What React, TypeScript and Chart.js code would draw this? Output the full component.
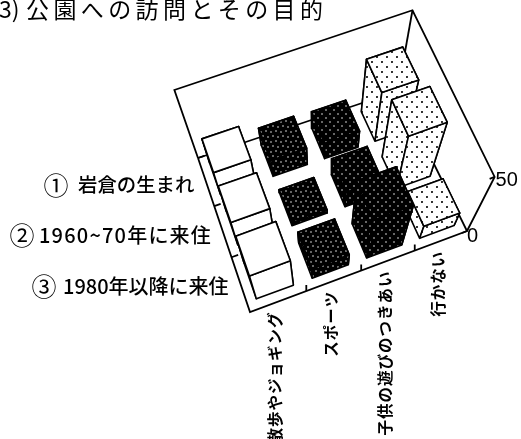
import React, { useEffect, useRef } from "react";
import { Chart, registerables } from "chart.js";

Chart.register(...registerables);

const titleText = "公園への訪問とその目的";
const titlePrefix = "3)";
const categories = ["散歩やジョギング", "スポーツ", "子供の遊びのつきあい", "行かない"];
const rowMarks = ["①", "②", "③"];
const rowLabels = ["岩倉の生まれ", "1960~70年に来住", "1980年以降に来住"];
const valueTicks = [0, 50];
// rows: ① (back), ② (middle), ③ (front)
const walkingValues = [20, 24, 30];
const sportsValues = [14, 3, 12];
const childrenValues = [13, 14, 40];
const noneValues = [36, 43, 13];

const W = 521;
const H = 439;
const FONT = '"Noto Sans CJK JP", "Noto Sans", sans-serif';

type Pt = { x: number; y: number };
// perspective frame of the floor and the vanishing point of the verticals
const FL: Pt = { x: 250, y: 312 };
const FR: Pt = { x: 467, y: 231 };
const BR: Pt = { x: 398, y: 91 };
const BL: Pt = { x: 198, y: 158 };
const VP: Pt = { x: 322, y: 515 };
const HEIGHT_K = 0.0032;
const BAR_MARGIN = 0.17;

function homography(p0: Pt, p1: Pt, p2: Pt, p3: Pt) {
  const dx1 = p1.x - p2.x, dx2 = p3.x - p2.x, sx = p0.x - p1.x + p2.x - p3.x;
  const dy1 = p1.y - p2.y, dy2 = p3.y - p2.y, sy = p0.y - p1.y + p2.y - p3.y;
  const den = dx1 * dy2 - dx2 * dy1;
  const g = (sx * dy2 - dx2 * sy) / den;
  const h = (dx1 * sy - sx * dy1) / den;
  const a = p1.x - p0.x + g * p1.x, b = p3.x - p0.x + h * p3.x, c = p0.x;
  const d = p1.y - p0.y + g * p1.y, e = p3.y - p0.y + h * p3.y, f = p0.y;
  return (u: number, v: number): Pt => {
    const w = g * u + h * v + 1;
    return { x: (a * u + b * v + c) / w, y: (d * u + e * v + f) / w };
  };
}
const floorMap = homography(FL, FR, BR, BL);

// col in 0..4 along the front edge, depth in 0..3 from front to back
function project(col: number, depth: number, value = 0): Pt {
  const p = floorMap(col / 4, depth / 3);
  const r = 1 / (1 - HEIGHT_K * value);
  return { x: VP.x + (p.x - VP.x) * r, y: VP.y + (p.y - VP.y) * r };
}

function makePattern(ctx: CanvasRenderingContext2D, bg: string, fg: string, tile: number, dots: [number, number][], r: number) {
  const c = document.createElement("canvas");
  c.width = tile;
  c.height = tile;
  const g = c.getContext("2d")!;
  g.fillStyle = bg;
  g.fillRect(0, 0, tile, tile);
  g.fillStyle = fg;
  for (const [x, y] of dots) {
    g.beginPath();
    g.arc(x, y, r, 0, Math.PI * 2);
    g.fill();
  }
  return ctx.createPattern(c, "repeat")!;
}

export default function App() {
  const ref = useRef<HTMLCanvasElement>(null);
  useEffect(() => {
    const canvas = ref.current!;
    const ctx = canvas.getContext("2d")!;
    const sportsFill = makePattern(ctx, "#000", "#fff", 10, [[1, 2], [6, 1], [3, 6], [8, 7]], 0.75);
    const childFill = makePattern(ctx, "#000", "#fff", 8, [[2, 2], [6, 6]], 0.75);
    const noneFill = makePattern(ctx, "#fff", "#000", 10, [[2, 2], [7, 7]], 1.05);

    const datasets: any[] = [];
    const poly = (pts: Pt[], fill: any) => {
      datasets.push({
        data: [...pts, pts[0]],
        showLine: true,
        tension: 0,
        pointRadius: 0,
        borderColor: "#000",
        borderWidth: 1.6,
        borderJoinStyle: "round",
        backgroundColor: fill ?? "rgba(0,0,0,0)",
        fill: fill ? "shape" : false,
      });
    };
    const line = (pts: Pt[]) => {
      datasets.push({
        data: pts,
        showLine: true,
        tension: 0,
        pointRadius: 0,
        borderColor: "#000",
        borderWidth: 1.8,
        fill: false,
      });
    };

    // frame: walls and floor
    line([project(0, 3, 0), project(0, 3, 50), project(4, 3, 50), project(4, 0, 50), project(4, 0, 0)]);
    line([project(4, 3, 50), project(4, 3, 0)]);
    line([project(0, 3, 0), project(4, 3, 0)]);
    line([project(0, 3, 0), project(0, 0, 0), project(4, 0, 0), project(4, 3, 0)]);
    // ticks
    for (let i = 1; i < 4; i++) {
      const a = project(i, 0, 0);
      line([a, { x: a.x, y: a.y - 6 }]);
    }
    for (let d = 1; d <= 3; d++) {
      const a = project(0, d, 0);
      const b = project(0.12, d, 0);
      line([a, b]);
    }
    for (const t of valueTicks) {
      const a = project(4, 0, t);
      line([{ x: a.x - 5, y: a.y + 2 }, a]);
    }

    // bars
    const series = [
      { values: walkingValues, fill: "#fff" },
      { values: sportsValues, fill: sportsFill },
      { values: childrenValues, fill: childFill },
      { values: noneValues, fill: noneFill },
    ];
    const dist = (p: Pt) => Math.hypot(p.x - VP.x, p.y - VP.y);
    const bars: { col: number; depth: number; value: number; fill: any; d: number }[] = [];
    series.forEach((s, col) =>
      s.values.forEach((value, row) => {
        const depth = 2 - row;
        bars.push({ col, depth, value, fill: s.fill, d: dist(project(col + 0.5, depth + 0.5)) });
      })
    );
    bars.sort((a, b) => b.d - a.d);
    for (const b of bars) {
      const u0 = b.col + BAR_MARGIN, u1 = b.col + 1 - BAR_MARGIN;
      const w0 = b.depth + BAR_MARGIN, w1 = b.depth + 1 - BAR_MARGIN;
      const corners: [number, number][] = [[u0, w0], [u1, w0], [u1, w1], [u0, w1]];
      const faces = corners.map((c, i) => {
        const n = corners[(i + 1) % 4];
        const mid = project((c[0] + n[0]) / 2, (c[1] + n[1]) / 2);
        return { c, n, d: dist(mid) };
      });
      faces.sort((x, y) => y.d - x.d);
      for (const f of faces) {
        poly(
          [
            project(f.c[0], f.c[1], 0),
            project(f.n[0], f.n[1], 0),
            project(f.n[0], f.n[1], b.value),
            project(f.c[0], f.c[1], b.value),
          ],
          b.fill
        );
      }
      poly(corners.map((c) => project(c[0], c[1], b.value)), b.fill);
    }
    datasets.forEach((d, i) => (d.order = datasets.length - i));

    const textPlugin = {
      id: "texts",
      afterDraw(chart: any) {
        const c = chart.ctx as CanvasRenderingContext2D;
        const sx = chart.scales.x;
        const sy = chart.scales.y;
        const X = (v: number) => sx.getPixelForValue(v);
        const Y = (v: number) => sy.getPixelForValue(v);
        c.save();
        c.fillStyle = "#000";
        c.textBaseline = "middle";
        // title
        c.font = `23px ${FONT}`;
        c.textAlign = "left";
        c.fillText(titlePrefix, X(-1), Y(9));
        (c as any).letterSpacing = "4.4px";
        c.fillText(titleText, X(26), Y(9));
        (c as any).letterSpacing = "0px";
        // row labels
        const rowY = [185, 235, 286];
        const markX = [44, 10, 32];
        const textX = [78, 39, 63];
        const sizes = [19.4, 20, 20];
        const spacing = ["0px", "1.2px", "0px"];
        rowLabels.forEach((t, i) => {
          c.font = `25px ${FONT}`;
          c.fillText(rowMarks[i], X(markX[i] - 0.5), Y(rowY[i]));
          c.font = `500 ${sizes[i]}px ${FONT}`;
          (c as any).letterSpacing = spacing[i];
          c.fillText(t, X(textX[i]), Y(rowY[i]));
          (c as any).letterSpacing = "0px";
        });
        // value ticks
        c.font = `20px "Liberation Sans", sans-serif`;
        valueTicks.forEach((t) => {
          const a = project(4, 0, t);
          c.fillText(String(t), X(a.x + (t === 0 ? 0 : 1)), Y(a.y + (t === 0 ? 5 : 4)));
        });
        // category labels, rotated
        c.font = `600 15.5px ${FONT}`;
        (c as any).letterSpacing = "1px";
        categories.forEach((t, i) => {
          const a = project(i + 0.5, 0, 0);
          c.save();
          c.translate(X(a.x - 3), Y(a.y + 10));
          c.rotate(-Math.PI / 2);
          c.textAlign = "right";
          c.fillText(t, 0, 0);
          c.restore();
        });
        c.restore();
      },
    };

    const chart = new Chart(canvas, {
      type: "scatter",
      data: { datasets },
      options: {
        animation: false,
        responsive: false,
        events: [],
        layout: { padding: 0 },
        scales: {
          x: { type: "linear", min: 0, max: W, display: false },
          y: { type: "linear", min: 0, max: H, reverse: true, display: false },
        },
        plugins: { legend: { display: false }, tooltip: { enabled: false } },
      },
      plugins: [textPlugin],
    } as any);
    return () => chart.destroy();
  }, []);
  return (
    <div style={{ position: "fixed", left: 0, top: 0, width: W, height: H, background: "#fff", overflow: "hidden" }}>
      <canvas ref={ref} width={W} height={H} style={{ display: "block", width: W, height: H }} />
    </div>
  );
}
